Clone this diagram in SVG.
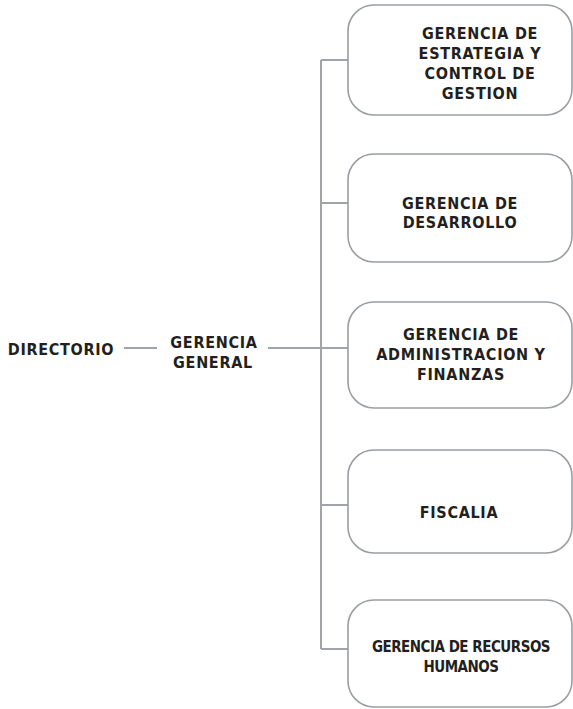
<svg xmlns="http://www.w3.org/2000/svg" width="573" height="709" viewBox="0 0 573 709">
<style>
.bg{fill:#ffffff}
.box{fill:#ffffff;stroke:#9a9ea2;stroke-width:1.6}
.ln{fill:none;stroke:#a0a4a8;stroke-width:2}
.t{font-family:"DejaVu Sans Condensed","DejaVu Sans",sans-serif;font-weight:bold;font-size:16px;letter-spacing:0.7px;fill:#231f20;text-anchor:middle}
.s{font-size:15px;letter-spacing:-0.5px}
</style>
<rect class="bg" x="0" y="0" width="573" height="709"/>
<g id="connectors">
<line class="ln" x1="124" y1="348" x2="157" y2="348"/>
<line class="ln" x1="268" y1="348" x2="348" y2="348"/>
<line class="ln" x1="321" y1="60" x2="321" y2="649"/>
<line class="ln" x1="321" y1="60" x2="348" y2="60"/>
<line class="ln" x1="321" y1="203" x2="348" y2="203"/>
<line class="ln" x1="321" y1="505" x2="348" y2="505"/>
<line class="ln" x1="321" y1="649" x2="348" y2="649"/>
</g>
<g id="directorio">
<text class="t" x="61" y="355">DIRECTORIO</text>
</g>
<g id="gerencia-general">
<text class="t" x="214" y="348">GERENCIA</text>
<text class="t" x="213" y="368">GENERAL</text>
</g>
<g id="estrategia">
<rect class="box" x="348" y="5" width="224" height="110" rx="26"/>
<text class="t" x="480" y="39">GERENCIA DE</text>
<text class="t" x="480" y="59">ESTRATEGIA Y</text>
<text class="t" x="480" y="79">CONTROL DE</text>
<text class="t" x="480" y="99">GESTION</text>
</g>
<g id="desarrollo">
<rect class="box" x="348" y="154" width="224" height="108" rx="26"/>
<text class="t" x="460" y="209">GERENCIA DE</text>
<text class="t" x="460" y="228">DESARROLLO</text>
</g>
<g id="administracion">
<rect class="box" x="348" y="302" width="224" height="106" rx="26"/>
<text class="t" x="461" y="340">GERENCIA DE</text>
<text class="t" x="461" y="360">ADMINISTRACION Y</text>
<text class="t" x="461" y="380">FINANZAS</text>
</g>
<g id="fiscalia">
<rect class="box" x="348" y="450" width="224" height="103" rx="26"/>
<text class="t" x="459" y="518">FISCALIA</text>
</g>
<g id="recursos-humanos">
<rect class="box" x="348" y="600" width="224" height="107" rx="26"/>
<text class="t s" x="461" y="652">GERENCIA DE RECURSOS</text>
<text class="t s" x="461" y="672">HUMANOS</text>
</g>
</svg>
